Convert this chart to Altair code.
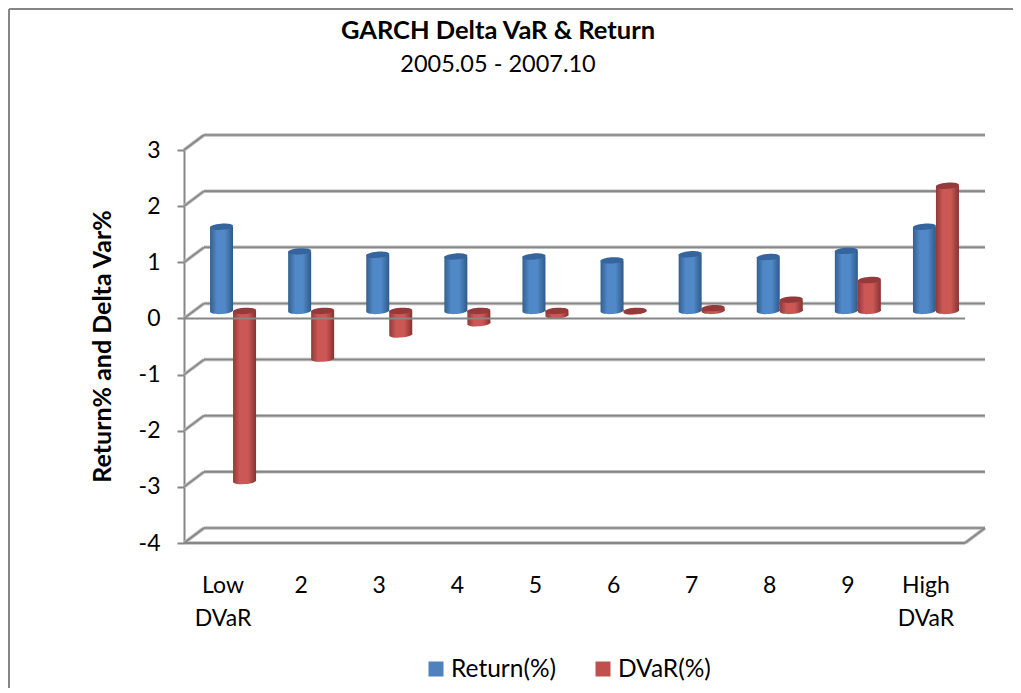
import altair as alt
import pandas as pd

categories = ["Low\nDVaR", "2", "3", "4", "5", "6", "7", "8", "9", "High\nDVaR"]
return_pct = [1.50, 1.06, 1.00, 0.97, 0.97, 0.90, 1.01, 0.96, 1.07, 1.50]
dvar_pct = [-3.03, -0.85, -0.42, -0.22, -0.08, -0.01, 0.05, 0.20, 0.55, 2.23]
y_ticks = [3, 2, 1, 0, -1, -2, -3, -4]
wall_levels = [3, 2, 1, 0, -1, -2, -3, -4]

W, H = 1005, 680
FONT = "Lato"
UX, UY = 78.1, 56.14
DX, DY = 20 / UX, 15 / UY          # depth of the 3-D box in data units
xs = alt.Scale(domain=[0, 10], range=[176, 957], nice=False, zero=False)
ys = alt.Scale(domain=[-4, 3], range=[535, 142], nice=False, zero=False)
GRID = "#868686"
SHADE = "#bdbdbd"


def grad(edge_l, mid, edge_r):
    return alt.Gradient(gradient="linear", x1=0, x2=1, y1=0, y2=0, stops=[
        alt.GradientStop(color=edge_l, offset=0),
        alt.GradientStop(color=mid, offset=0.3),
        alt.GradientStop(color=mid, offset=0.65),
        alt.GradientStop(color=edge_r, offset=1)])


BLUE = grad("#33608f", "#5088c8", "#2f5a88")
RED = grad("#8f3a38", "#cc5856", "#853331")
CAP_BLUE, CAP_RED = "#35659c", "#96393a"
ELLIPSE = "M-1,0.08 A1,0.27 -4 1 1 1,-0.08 A1,0.27 -4 1 1 -1,0.08 Z"

rows = []
for i, (r, d) in enumerate(zip(return_pct, dvar_pct)):
    for v, side in ((r, 0), (d, 1)):
        left = i + 0.5 + 10 / UX - 23 / UX + side * 23 / UX
        rows.append(dict(side=side, x=left, x2=left + 23 / UX, xc=left + 11.5 / UX,
                         lo=min(v, 0) + DY / 2, hi=max(v, 0) + DY / 2))
bars = pd.DataFrame(rows)

walls = pd.DataFrame([dict(x=DX, x2=10 + DX, y=v + DY, y2=v + DY) for v in wall_levels])
diag = pd.DataFrame([dict(x=0, x2=DX, y=v, y2=v + DY) for v in wall_levels]
                    + [dict(x=10, x2=10 + DX, y=-4, y2=-4 + DY)])
front = pd.DataFrame([dict(x=0, x2=10, y=-4, y2=-4)])
zero = pd.DataFrame([dict(x=0, x2=10, y=0, y2=0)])
cats = pd.DataFrame({"x": [i + 0.5 for i in range(10)], "label": categories})


def rules(df, color, width):
    return alt.Chart(df).mark_rule(color=color, strokeWidth=width).encode(
        x=alt.X("x:Q", scale=xs, axis=None), x2="x2:Q",
        y=alt.Y("y:Q", scale=ys), y2="y2:Q")


def cyl(side, fill, cap):
    d = bars[bars.side == side]
    body = alt.Chart(d).mark_bar(fill=fill).encode(
        x=alt.X("x:Q", scale=xs, axis=None), x2="x2:Q",
        y=alt.Y("lo:Q", scale=ys), y2="hi:Q")
    bottom = alt.Chart(d).mark_point(shape=ELLIPSE, size=529, filled=True, fill=fill, opacity=1).encode(
        x=alt.X("xc:Q", scale=xs, axis=None), y=alt.Y("lo:Q", scale=ys))
    top = alt.Chart(d).mark_point(shape=ELLIPSE, size=529, filled=True, fill=cap, opacity=1).encode(
        x=alt.X("xc:Q", scale=xs, axis=None), y=alt.Y("hi:Q", scale=ys))
    return [bottom, body, top]


axis_layer = alt.Chart(pd.DataFrame({"y": y_ticks})).mark_point(opacity=0).encode(
    x=alt.value(176),
    y=alt.Y("y:Q", scale=ys, axis=alt.Axis(
        orient="left", offset=-176, values=y_ticks, labelExpr="toString(datum.value)", grid=False,
        domainColor=GRID, domainWidth=2, tickColor=GRID, tickWidth=2, tickSize=7,
        labelFont=FONT, labelFontSize=23, labelColor="#000000", labelPadding=17,
        title="Return% and Delta Var%", titleFont=FONT, titleFontSize=25, titleFontWeight="bold",
        titleColor="#000000", titleX=-69, titleY=338, titleAngle=270)))

cat_text = alt.Chart(cats).mark_text(font=FONT, fontSize=23, color="#000000", lineBreak="\n",
                                     lineHeight=33, baseline="top", align="center").encode(
    x=alt.X("x:Q", scale=xs, axis=None), y=alt.value(567), text="label:N")


def label(txt, x, y, size=21, weight="normal", align="center"):
    return alt.Chart(pd.DataFrame({"t": [txt]})).mark_text(
        font=FONT, fontSize=size, fontWeight=weight, color="#000000", align=align, baseline="middle"
    ).encode(x=alt.value(x), y=alt.value(y), text="t:N")


def swatch(x, color):
    return alt.Chart(pd.DataFrame({"k": [0]})).mark_square(size=225, color=color, opacity=1).encode(
        x=alt.value(x), y=alt.value(661))


def edge(x, x2, y, y2):
    return alt.Chart(pd.DataFrame({"k": [0]})).mark_rule(color=GRID, strokeWidth=2).encode(
        x=alt.value(x), x2=alt.value(x2), y=alt.value(y), y2=alt.value(y2))


layers = [
    axis_layer,
    edge(1, 1, 1, H), edge(1, W, 1, 1),
    rules(walls, SHADE, 3.5), rules(diag, SHADE, 3.5),
    rules(front, SHADE, 3.5),
    rules(walls, GRID, 1.6), rules(diag, GRID, 1.6), rules(front, GRID, 2),
    *cyl(0, BLUE, CAP_BLUE), *cyl(1, RED, CAP_RED),
    rules(zero, GRID, 2),
    cat_text,
    label("GARCH Delta VaR & Return", 490, 23, 25.5, "bold"),
    label("2005.05 - 2007.10", 490, 57, 23.5),
    swatch(428, "#4f81bd"), label("Return(%)", 443, 662, 24.5, align="left"),
    swatch(595, "#c0504d"), label("DVaR(%)", 610, 662, 24.5, align="left"),
]

chart = alt.layer(*layers).properties(
    width=W, height=H, padding=0, autosize=alt.AutoSizeParams(type="none"), background="#ffffff"
).configure_view(stroke=None)

chart.save("out.html", embed_options={"renderer": "svg", "actions": False})
